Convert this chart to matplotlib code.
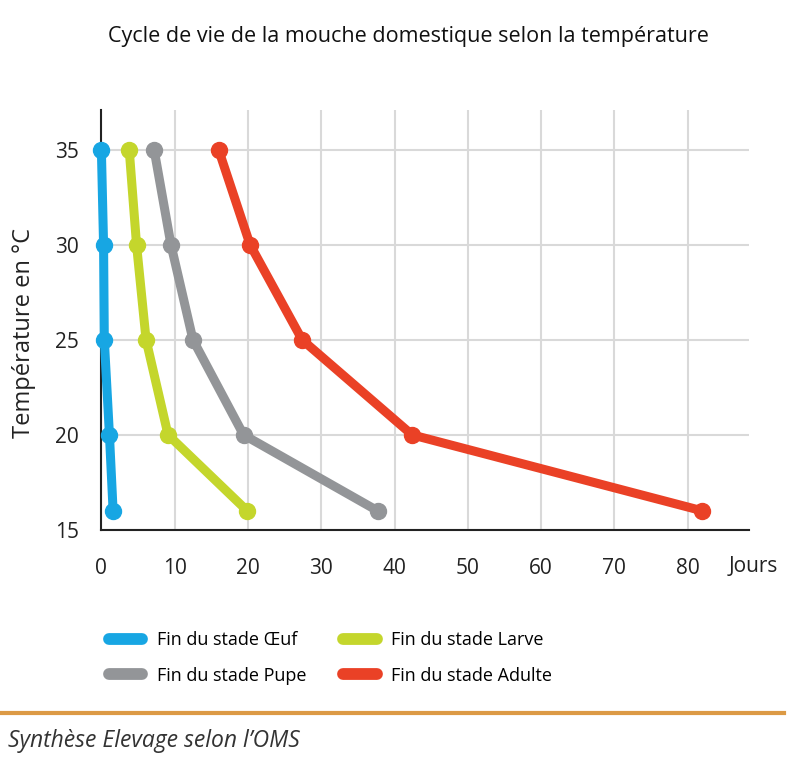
import matplotlib
matplotlib.use("Agg")
import matplotlib.pyplot as plt
from matplotlib.lines import Line2D

plt.rcParams['font.family'] = ['Open Sans', 'DejaVu Sans']

# temperature (°C) for each stage point
temperatures = [35, 30, 25, 20, 16]

# days to end of stage
oeuf = [0.0, 0.3, 0.4, 1.1, 1.6]
larve = [3.8, 4.8, 6.1, 9.1, 19.9]
pupe = [7.2, 9.5, 12.5, 19.4, 37.7]
adulte = [16.0, 20.3, 27.4, 42.4, 82.0]

labels = ["Fin du stade Œuf", "Fin du stade Larve", "Fin du stade Pupe", "Fin du stade Adulte"]
colors = ["#17a6e3", "#c4d62c", "#939598", "#ea4126"]

x_ticks = [0, 10, 20, 30, 40, 50, 60, 70, 80]
y_ticks = [15, 20, 25, 30, 35]

fig = plt.figure(figsize=(7.92, 7.69), dpi=100)
ax = fig.add_axes([0.128, 0.311, 0.818, 0.546])

series = [oeuf, larve, pupe, adulte]
for values, color in zip(series, colors):
    ax.plot(values, temperatures, color=color, lw=6.5, marker="o", ms=11.5,
            solid_capstyle="round", zorder=3, clip_on=False)

ax.set_xlim(0, 88.4)
ax.set_ylim(15, 37.1)
ax.set_xticks(x_ticks)
ax.set_yticks(y_ticks)
ax.grid(True, color="#d9d9d9", lw=1.5)
ax.set_axisbelow(True)
for side in ["top", "right"]:
    ax.spines[side].set_visible(False)
for side in ["left", "bottom"]:
    ax.spines[side].set_linewidth(1.5)
    ax.spines[side].set_color("#222222")
ax.tick_params(length=0, labelsize=15, colors="#222222")
ax.tick_params(axis="x", pad=20)
ax.tick_params(axis="y", pad=16)
ax.set_ylabel("Température en °C", fontsize=17, color="#222222")
ax.yaxis.set_label_coords(-0.101, 0.47)
ax.text(1.006, -0.088, "Jours", transform=ax.transAxes, fontsize=15,
        color="#222222", ha="center", va="center")

fig.text(0.516, 0.952, "Cycle de vie de la mouche domestique selon la température",
         ha="center", va="center", fontsize=15.5, color="#111111")

# legend ordered so that columns read Oeuf/Pupe then Larve/Adulte
order = [0, 2, 1, 3]
handles = [Line2D([0], [0], color=colors[i], lw=8.5, solid_capstyle="round") for i in order]
fig.legend(handles, [labels[i] for i in order], loc="upper left",
           bbox_to_anchor=(0.117, 0.2), ncol=2, frameon=False, fontsize=13,
           handlelength=1.85, columnspacing=2.05, labelspacing=0.95, handletextpad=0.8)

fig.add_artist(Line2D([0.0, 0.99], [0.073, 0.073], transform=fig.transFigure,
                      color="#dc9a45", lw=3))
fig.text(0.01, 0.037, "Synthèse Elevage selon l’OMS", style="italic",
         fontsize=16.5, color="#333333", va="center")

fig.savefig("out.png", dpi=100)
